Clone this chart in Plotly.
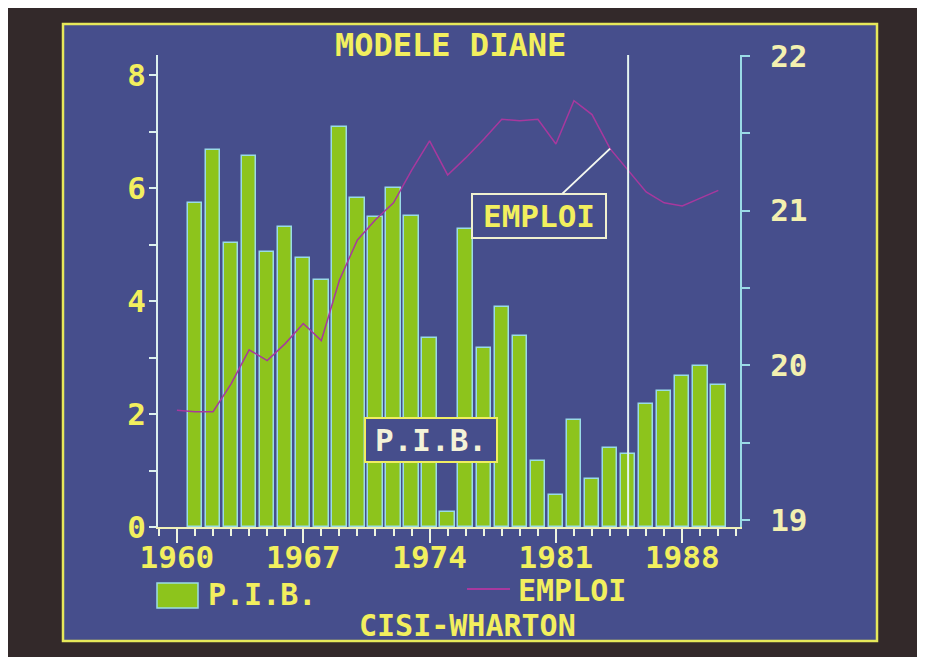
"""MODELE DIANE - P.I.B. et EMPLOI (CISI-WHARTON)"""

import plotly.graph_objects as go

# Data
pib_years = list(range(1961, 1991))
pib = [5.73, 6.67, 5.03, 6.57, 4.87, 5.31, 4.76, 4.37, 7.08, 5.82,
       5.49, 6.00, 5.50, 3.34, 0.27, 5.27, 3.17, 3.89, 3.38, 1.17,
       0.57, 1.89, 0.85, 1.40, 1.29, 2.18, 2.41, 2.67, 2.85, 2.51]

emploi_years = list(range(1960, 1991))
emploi = [19.71, 19.70, 19.70, 19.88, 20.10, 20.03, 20.14, 20.27, 20.16, 20.55,
          20.81, 20.94, 21.05, 21.26, 21.45, 21.23, 21.34, 21.46, 21.59, 21.58,
          21.59, 21.43, 21.71, 21.62, 21.40, 21.26, 21.12, 21.05, 21.03, 21.08,
          21.13]

forecast_start = 1985
arrow_year = 1984

# Look
W, H = 925, 657
OFF = 8  # page body margin, the figure sits 8px in from the window corner
PW, PH = 582, 472  # plot area in pixels
L, T = 158 - OFF, 55 - OFF
R, B = W - L - PW, H - T - PH
FONT = "DejaVu Sans Mono"
SCREEN = "#464e8c"
FRAME = "#33292a"
YELLOW = "#f2ef5e"
PALE = "#f3f0b0"
CYAN = "#9adbe6"
GREEN = "#8dc41c"
MAGENTA = "#a8389e"


def px_x(px):
    """window pixel x -> paper x"""
    return (px - OFF - L) / PW


def px_y(py):
    """window pixel y -> paper y"""
    return (T + PH - (py - OFF)) / PH


def text(s, x, y, size=31, color=YELLOW, xanchor="center"):
    return dict(
        text=f"<b>{s}</b>", x=px_x(x), y=px_y(y), xref="paper", yref="paper",
        showarrow=False, xanchor=xanchor, yanchor="middle",
        font=dict(family=FONT, size=size, color=color),
    )


fig = go.Figure()

fig.add_trace(
    go.Bar(
        x=pib_years, y=pib, name="P.I.B.", width=0.8,
        marker=dict(color=GREEN, line=dict(color=CYAN, width=1.5)),
    )
)
fig.add_trace(
    go.Scatter(
        x=emploi_years, y=emploi, name="EMPLOI", yaxis="y2", mode="lines",
        line=dict(color=MAGENTA, width=1.5),
    )
)

shapes = [
    # screen
    dict(type="rect", xref="paper", yref="paper", layer="below",
         x0=px_x(63), x1=px_x(877), y0=px_y(641), y1=px_y(24),
         fillcolor=SCREEN, line=dict(color="#e6e85a", width=2.5)),
    # forecast boundary
    dict(type="line", xref="x", yref="paper", x0=forecast_start, x1=forecast_start,
         y0=0, y1=1, line=dict(color="#e4f4f0", width=2)),
    # legend swatches
    dict(type="rect", xref="paper", yref="paper",
         x0=px_x(157), x1=px_x(198), y0=px_y(608), y1=px_y(583),
         fillcolor=GREEN, line=dict(color=CYAN, width=1.5)),
    dict(type="line", xref="paper", yref="paper",
         x0=px_x(467), x1=px_x(510), y0=px_y(589), y1=px_y(589),
         line=dict(color=MAGENTA, width=2)),
]

annotations = [
    text("MODELE DIANE", 450, 45, size=32),
    text("P.I.B.", 206, 594, size=30, xanchor="left"),
    text("EMPLOI", 516, 590, size=30, xanchor="left"),
    text("CISI-WHARTON", 467, 625, size=30),
    # boxed labels
    dict(text="<b>EMPLOI</b>", x=arrow_year, y=emploi[emploi_years.index(arrow_year)],
         xref="x", yref="y2", ax=-71, ay=67, showarrow=True, arrowhead=0,
         arrowcolor="#f4f8f0", arrowwidth=2, standoff=0,
         width=130, height=40, bgcolor=SCREEN, bordercolor="#f0f0d0",
         borderwidth=2, font=dict(family=FONT, size=31, color=YELLOW)),
    dict(text="<b>P.I.B.</b>", x=px_x(431), y=px_y(440), xref="paper", yref="paper",
         xanchor="center", yanchor="middle", showarrow=False,
         width=128, height=40, bgcolor=SCREEN,
         bordercolor="#f0ee60", borderwidth=2,
         font=dict(family=FONT, size=31, color="#f4f2d8")),
]

tickfont = dict(family=FONT, size=31, color=YELLOW, weight="bold")

fig.update_layout(
    width=W, height=H,
    margin=dict(l=L, r=R, t=T, b=B),
    paper_bgcolor=FRAME,
    plot_bgcolor="rgba(0,0,0,0)",
    showlegend=False,
    bargap=0,
    shapes=shapes,
    annotations=annotations,
    xaxis=dict(
        range=[1958.95, 1991.2], showgrid=False, zeroline=False,
        showline=True, linecolor="#f0f0b8", linewidth=2,
        tick0=1960, dtick=7, ticks="outside", ticklen=14, tickwidth=2,
        tickcolor="#eef4e0", tickfont=tickfont, ticklabelstandoff=-12,
        minor=dict(tick0=1960, dtick=1, ticks="outside", ticklen=7,
                   tickwidth=2, tickcolor="#eef4e0"),
    ),
    yaxis=dict(
        range=[0, 8.354], showgrid=False, zeroline=False,
        showline=True, linecolor="#dcf0ee", linewidth=2,
        tick0=0, dtick=2, ticks="outside", ticklen=7, tickwidth=2,
        tickcolor="#dcf0ee", tickfont=tickfont, ticklabelstandoff=-3,
        minor=dict(dtick=1, ticks="outside", ticklen=7, tickwidth=2,
                   tickcolor="#dcf0ee"),
    ),
    yaxis2=dict(
        range=[18.955, 22.005], overlaying="y", side="right",
        showgrid=False, zeroline=False,
        showline=True, linecolor=CYAN, linewidth=2,
        tick0=19, dtick=1, ticks="outside", ticklen=8, tickwidth=2,
        tickcolor=CYAN, ticklabelstandoff=14,
        tickfont=dict(family=FONT, size=31, color=PALE, weight="bold"),
        minor=dict(dtick=0.5, ticks="outside", ticklen=8, tickwidth=2,
                   tickcolor=CYAN),
    ),
)

fig.write_html("out.html")
